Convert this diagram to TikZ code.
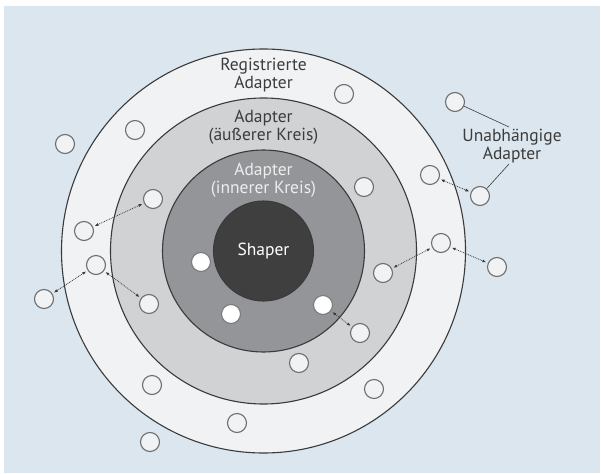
\documentclass[tikz,border=0pt]{standalone}
\usepackage{fontspec}
\setmainfont{PT Sans}
\usetikzlibrary{arrows.meta}
\definecolor{bgblue}{HTML}{DCE6EE}
\definecolor{ringA}{HTML}{F1F2F4}
\definecolor{ringB}{HTML}{D1D2D4}
\definecolor{ringC}{HTML}{939598}
\definecolor{core}{HTML}{3F3F40}
\definecolor{edge}{HTML}{3A3A3A}
\definecolor{smalledge}{HTML}{6D6E70}
\definecolor{inneredge}{HTML}{7A7B7D}
\definecolor{txt}{HTML}{3C3C3C}
\definecolor{lighttxt}{HTML}{EDEDED}
\tikzset{
  ring/.style={circle, draw=edge, line width=1.1pt, inner sep=0pt},
  adapter/.style={circle, draw=smalledge, fill=ringA, line width=1.1pt, minimum size=19pt, inner sep=0pt},
  inadapter/.style={adapter, draw=inneredge, fill=white},
  lbl/.style={font=\fontsize{17.5}{18}\selectfont, align=center, text=txt, inner sep=0pt},
  link/.style={densely dotted, draw=edge, line width=0.8pt, {Latex[length=4pt,width=3pt]}-{Latex[length=4pt,width=3pt]}, shorten <=1.5pt, shorten >=1.5pt},
  callout/.style={draw=edge, line width=0.6pt}
}
\begin{document}
\begin{tikzpicture}[x=1pt,y=-1pt]
\useasboundingbox (0,0) rectangle (601,473);
\fill[white] (0,0) rectangle (601,473);
\fill[bgblue] (4,6) rectangle (600,473);
% rings
\node[ring, fill=ringA, minimum size=404pt] (reg) at (263.5,251) {};
\node[ring, fill=ringB, minimum size=306pt] (outer) at (263.5,251) {};
\node[ring, fill=ringC, minimum size=202pt] (inner) at (263.5,251) {};
\node[ring, fill=core, minimum size=100pt] (shaper) at (263.5,251) {};
% labels
\node[lbl] (lreg) at (263.5,75) {Registrierte\\Adapter};
\node[lbl] (lout) at (263.5,127) {Adapter\\(äußerer Kreis)};
\node[lbl, text=lighttxt] (lin) at (263.5,180) {Adapter\\(innerer Kreis)};
\node[lbl, text=white] (lsh) at (263.5,251) {Shaper};
\node[lbl] (lind) at (512,146) {Unabhängige\\Adapter};
% small adapters
\node[adapter] (a1) at (344,94) {};
\node[adapter] (a2) at (455,102) {};
\node[adapter] (a3) at (135,130) {};
\node[adapter] (a4) at (65,144) {};
\node[adapter] (a5) at (364,187) {};
\node[adapter] (a6) at (430,175) {};
\node[adapter] (a7) at (480,196) {};
\node[adapter] (a8) at (153,199) {};
\node[adapter] (a9) at (84,231) {};
\node[adapter] (a10) at (441,243) {};
\node[inadapter] (a11) at (201,262) {};
\node[adapter] (a12) at (383,273) {};
\node[adapter] (a13) at (96,265) {};
\node[adapter] (a14) at (497,267) {};
\node[adapter] (a15) at (44,299) {};
\node[adapter] (a16) at (149,304) {};
\node[inadapter] (a17) at (323,305) {};
\node[inadapter] (a18) at (231,314) {};
\node[adapter] (a19) at (360,333) {};
\node[adapter] (a20) at (299,363) {};
\node[adapter] (a21) at (152,385) {};
\node[adapter] (a22) at (374,389) {};
\node[adapter] (a23) at (237,423) {};
\node[adapter] (a24) at (150,442) {};
% links
\draw[link] (a8) -- (a9);
\draw[link] (a13) -- (a15);
\draw[link] (a13) -- (a16);
\draw[link] (a6) -- (a7);
\draw[link] (a10) -- (a12);
\draw[link] (a10) -- (a14);
\draw[link] (a17) -- (a19);
% callouts
\coordinate (c1) at (509,127);
\coordinate (c2) at (509,164);
\draw[callout] (a2) -- (c1);
\draw[callout] (a7) -- (c2);
\end{tikzpicture}
\end{document}
